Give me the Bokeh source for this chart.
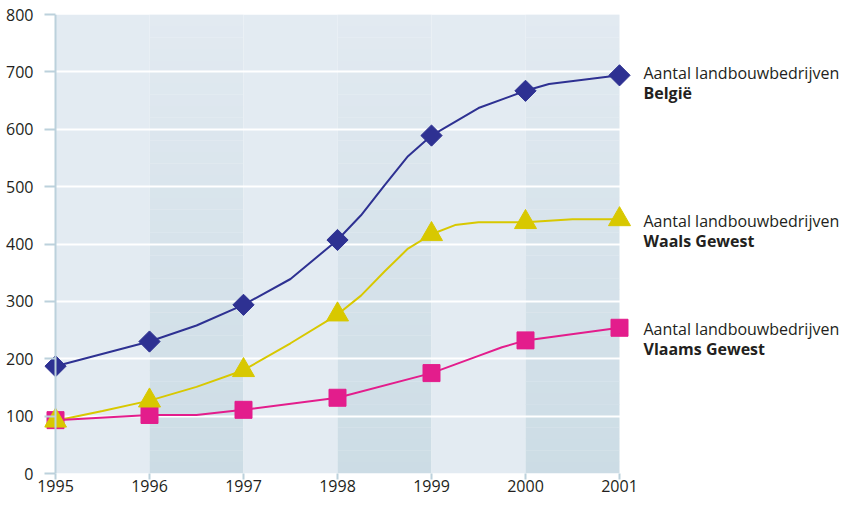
import numpy as np
from bokeh.plotting import figure
from bokeh.models import Range1d, FixedTicker, ColumnDataSource, Span
from bokeh.core.properties import value
from bokeh.embed import file_html
from bokeh.resources import INLINE

# ---- data ----
years = [1995, 1996, 1997, 1998, 1999, 2000, 2001]
belgie = [187, 230, 294, 407, 589, 667, 694]
waals = [92, 127, 180, 277, 417, 438, 443]
vlaams = [93, 102, 111, 132, 175, 232, 254]

# line traces (more readings than markers)
belgie_line_x = [1995, 1996, 1996.5, 1997, 1997.5, 1998, 1998.25, 1998.5, 1998.75, 1999, 1999.25, 1999.5, 2000, 2000.25, 2001]
belgie_line_y = [187, 230, 258, 294, 339, 407, 450, 502, 553, 589, 613, 637, 667, 679, 694]
waals_line_x = [1995, 1995.5, 1996, 1996.5, 1997, 1997.5, 1998, 1998.25, 1998.5, 1998.75, 1999, 1999.25, 1999.5, 2000, 2000.5, 2001]
waals_line_y = [92, 109, 127, 151, 180, 227, 277, 310, 352, 392, 417, 433, 438, 438, 443, 443]
vlaams_line_x = [1995, 1996, 1996.5, 1997, 1998, 1999, 1999.5, 1999.75, 2000, 2001]
vlaams_line_y = [93, 102, 102, 111, 132, 175, 205, 220, 232, 254]

y_ticks = [0, 100, 200, 300, 400, 500, 600, 700, 800]
label_line1 = "Aantal landbouwbedrijven"
label_names = ["België", "Waals Gewest", "Vlaams Gewest"]

# ---- style ----
FONT = "Open Sans"
TXT = "#231f20"
AXC = "#bcd1dc"
BLUE = "#2e3192"
YELLOW = "#d8c800"
PINK = "#e31d8c"
LIGHT = "#e3ebf2"
DARK_TOP = np.array([226, 234, 241])
DARK_BOT = np.array([204, 220, 229])

W, H = 840, 495
LEFT, TOP, BOTTOM = 44, 14, 22
PX_PER_YEAR = 94.0
AXIS_X = 55  # screen x of first year
x_start = years[0] - (AXIS_X - LEFT) / PX_PER_YEAR
x_end = years[0] + (W - AXIS_X) / PX_PER_YEAR

p = figure(width=W, height=H,
           x_range=Range1d(x_start, x_end),
           y_range=Range1d(y_ticks[0], y_ticks[-1]),
           output_backend="svg", toolbar_location=None,
           min_border_left=LEFT, min_border_right=0,
           min_border_top=TOP, min_border_bottom=BOTTOM)
p.outline_line_color = None
p.background_fill_color = "white"
p.border_fill_color = "white"

# background bands
y0, y1 = y_ticks[0], y_ticks[-1]
nsl = 40
for i in range(len(years) - 1):
    xa, xb = years[i], years[i + 1]
    if i % 2 == 0:
        r = p.quad(left=[xa], right=[xb], bottom=[y0], top=[y1],
                   fill_color=LIGHT, line_color=None)
        r.level = "image"
    else:
        edges = np.linspace(y0, y1, nsl + 1)
        cols = []
        for k in range(nsl):
            t = (k + 0.5) / nsl  # 0 bottom -> 1 top
            c = DARK_BOT + (DARK_TOP - DARK_BOT) * t
            cols.append("#%02x%02x%02x" % tuple(int(round(v)) for v in c))
        src = ColumnDataSource(dict(left=[xa] * nsl, right=[xb] * nsl,
                                    bottom=edges[:-1], top=edges[1:] + 0.5, color=cols))
        r = p.quad(left="left", right="right", bottom="bottom", top="top",
                   fill_color="color", line_color=None, source=src)
        r.level = "image"

# grid
p.xgrid.visible = False
p.ygrid.ticker = FixedTicker(ticks=y_ticks[1:-1])
p.ygrid.grid_line_color = "white"
p.ygrid.grid_line_width = 2

# axes
p.xaxis.ticker = FixedTicker(ticks=years)
p.yaxis.ticker = FixedTicker(ticks=y_ticks)
for ax in (p.xaxis[0], p.yaxis[0]):
    ax.major_label_text_font = FONT
    ax.major_label_text_font_size = "16px"
    ax.major_label_text_color = TXT
    ax.major_tick_line_color = AXC
    ax.major_tick_line_width = 2
    ax.minor_tick_line_color = None
p.xaxis.axis_line_color = None
p.xaxis.major_tick_in = 0
p.xaxis.major_tick_out = 6
p.xaxis.major_label_standoff = 0
p.yaxis.axis_line_color = None
p.yaxis.major_tick_out = 0
p.yaxis.major_tick_in = AXIS_X - LEFT
p.yaxis.major_label_standoff = 11

# vertical axis line at the first year
p.add_layout(Span(location=years[0], dimension="height", line_color=AXC, line_width=2))

# lines
p.line(belgie_line_x, belgie_line_y, line_color=BLUE, line_width=2)
p.line(waals_line_x, waals_line_y, line_color=YELLOW, line_width=2)
p.line(vlaams_line_x, vlaams_line_y, line_color=PINK, line_width=2)

# markers
p.scatter(years, vlaams, marker="square", size=17, fill_color=PINK, line_color=PINK)
p.scatter(years, waals, marker="triangle", size=22, fill_color=YELLOW, line_color=YELLOW)
p.scatter(years, belgie, marker="square", angle=np.pi / 4, size=15, fill_color=BLUE, line_color=BLUE)

# right-side labels
last_vals = [belgie[-1], waals[-1], vlaams[-1]]
offsets = [-2, 2, 1]
lab = ColumnDataSource(dict(x=[years[-1]] * 3, y=last_vals, t1=[label_line1] * 3,
                            t2=label_names, o1=offsets, o2=[o + 20 for o in offsets]))
p.text(x="x", y="y", text="t1", source=lab, x_offset=24, y_offset="o1",
       text_font=value(FONT), text_font_size="16px", text_color=TXT,
       text_baseline="middle", text_align="left")
p.text(x="x", y="y", text="t2", source=lab, x_offset=24, y_offset="o2",
       text_font=value(FONT), text_font_size="16px", text_color=TXT,
       text_font_style="bold", text_baseline="middle", text_align="left")

open("out.html", "w").write(file_html(p, INLINE))
